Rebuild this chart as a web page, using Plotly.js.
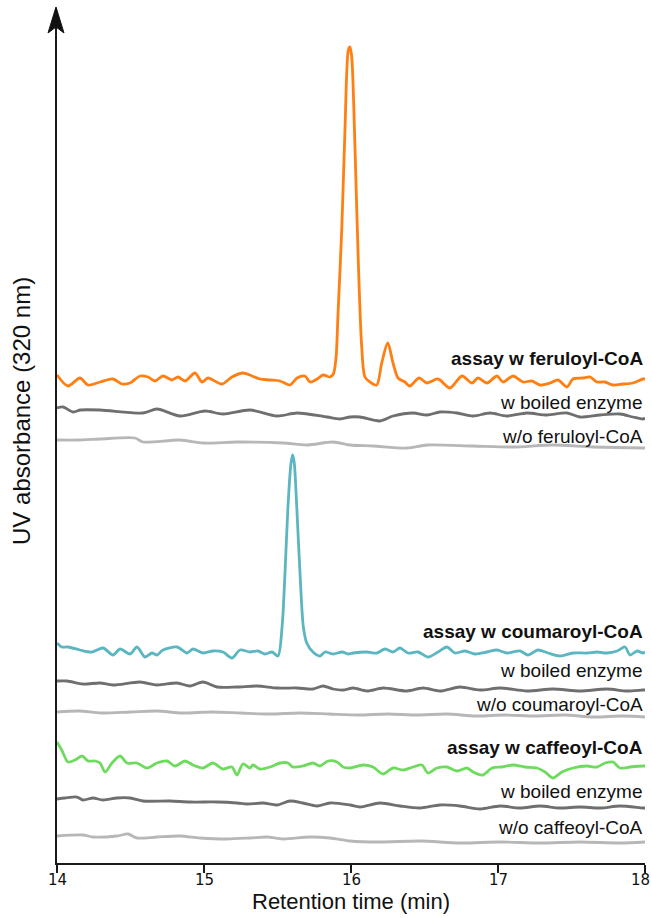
<!DOCTYPE html>
<html>
<head>
<meta charset="utf-8">
<script src="https://cdn.plot.ly/plotly-3.0.1.min.js"></script>
<style>
  html, body { margin: 0; padding: 0; background: #fff; }
  #chart { width: 652px; height: 918px; }
</style>
</head>
<body>
<div id="chart"></div>
<script>
// ---------- DATA (retention time in min, signal in arbitrary absorbance units relative to each trace baseline) ----------
const feruloylAssayTime = [14.000,14.075,14.156,14.211,14.293,14.381,14.442,14.497,14.565,14.619,14.667,14.721,14.782,14.823,14.871,14.939,14.986,15.027,15.122,15.190,15.265,15.327,15.381,15.449,15.517,15.585,15.633,15.687,15.721,15.769,15.810,15.857,15.880,15.898,15.912,15.937,15.959,15.982,15.993,16.005,16.027,16.050,16.073,16.095,16.129,16.175,16.209,16.250,16.286,16.320,16.367,16.400,16.463,16.517,16.592,16.673,16.755,16.823,16.864,16.925,16.993,17.034,17.102,17.170,17.231,17.286,17.354,17.408,17.469,17.510,17.578,17.626,17.673,17.728,17.782,17.850,17.918,17.986,18.000];
const feruloylAssaySignal = [5,-6,2,-5,-2,1,-4,-3,4,3,-1,4,0,3,-1,7,-2,2,-4,3,7,4,1,0,-1,-5,2,4,-2,1,5,3,6,22,67,150,250,330,333,323,233,117,33,3,-2,-5,17,37,17,2,-2,-6,2,-3,1,-8,4,-3,2,-3,4,-2,4,-2,-1,-5,-3,0,-7,1,2,3,-2,-2,-5,-4,-3,1,1];

const feruloylBoiledTime = [14.000,14.041,14.109,14.160,14.293,14.585,14.680,14.837,15.007,15.129,15.313,15.497,15.633,15.837,15.925,15.993,16.061,16.197,16.286,16.422,16.517,16.605,16.721,16.830,16.946,17.061,17.197,17.333,17.469,17.558,17.694,17.830,17.918,17.986,18.000];
const feruloylBoiledSignal = [2,3,-2,0,0,-3,1,-6,-1,-4,0,-6,-3,-7,-9,-7,-7,-11,-6,-3,-5,-2,-3,-6,-3,-6,-3,-5,-3,-7,-5,-4,-7,-9,-8];

const feruloylNoSubTime = [14.000,14.156,14.293,14.530,14.585,14.837,14.993,15.224,15.537,15.701,15.878,15.993,16.150,16.381,16.517,16.830,17.102,17.374,17.646,17.986,18.000];
const feruloylNoSubSignal = [0,0,1,2,-2,0,-3,-2,-3,-5,-2,-5,-6,-8,-5,-6,-7,-5,-7,-8,-8];

const coumaroylAssayTime = [14.000,14.032,14.075,14.156,14.238,14.313,14.381,14.429,14.497,14.544,14.599,14.646,14.680,14.721,14.816,14.884,14.925,14.993,15.061,15.129,15.190,15.245,15.313,15.367,15.415,15.463,15.503,15.531,15.551,15.571,15.592,15.603,15.614,15.631,15.653,15.676,15.699,15.741,15.789,15.823,15.878,15.939,15.980,16.014,16.109,16.177,16.231,16.286,16.333,16.388,16.456,16.524,16.592,16.653,16.707,16.776,16.844,16.925,16.993,17.061,17.150,17.204,17.272,17.340,17.422,17.510,17.605,17.673,17.741,17.810,17.864,17.898,17.946,17.986,18.000];
const coumaroylAssaySignal = [9,5,5,2,0,4,-3,3,-2,5,-5,-1,-3,2,5,-1,3,-1,1,0,-6,2,0,1,-2,0,-4,25,79,145,189,197,189,145,79,25,9,0,-4,0,-2,0,-2,-1,0,-1,3,0,4,-1,0,-5,0,5,-1,1,-2,0,2,-1,1,-3,2,-1,-4,-1,-1,0,-1,1,5,-3,1,-1,0];

const coumaroylBoiledTime = [14.000,14.068,14.177,14.293,14.381,14.565,14.680,14.816,14.905,14.993,15.088,15.224,15.361,15.497,15.633,15.741,15.810,15.878,15.946,16.014,16.109,16.218,16.381,16.490,16.605,16.741,16.878,17.014,17.197,17.374,17.558,17.741,17.878,17.986,18.000];
const coumaroylBoiledSignal = [3,3,0,1,-1,2,-1,1,-2,2,-3,-3,-2,-4,-4,-5,-2,-5,-6,-4,-7,-4,-7,-4,-7,-3,-6,-4,-7,-5,-7,-5,-7,-6,-6];

const coumaroylNoSubTime = [14.000,14.150,14.300,14.500,14.680,14.850,15.050,15.250,15.450,15.650,15.850,16.050,16.250,16.450,16.650,16.850,17.050,17.250,17.450,17.650,17.850,18.000];
const coumaroylNoSubSignal = [0,1,-1,0,1,-1,0,-1,-2,-1,-2,-3,-2,-3,-2,-4,-3,-4,-3,-5,-4,-5];

const caffeoylAssayTime = [14.000,14.032,14.075,14.122,14.170,14.211,14.259,14.293,14.327,14.374,14.429,14.476,14.544,14.612,14.680,14.748,14.803,14.871,14.925,14.993,15.061,15.129,15.190,15.224,15.265,15.313,15.333,15.381,15.449,15.517,15.571,15.605,15.673,15.741,15.789,15.844,15.905,15.946,15.993,16.082,16.150,16.218,16.286,16.354,16.422,16.483,16.524,16.585,16.653,16.721,16.789,16.830,16.898,16.959,17.027,17.102,17.184,17.265,17.320,17.374,17.435,17.510,17.605,17.673,17.728,17.782,17.830,17.898,17.986,18.000];
const caffeoylAssaySignal = [23,15,3,5,9,4,4,2,-7,2,9,2,2,-3,2,4,-1,4,0,-3,2,-4,-2,-10,1,-3,0,-4,-2,2,2,-2,-1,2,-1,4,3,-2,-3,0,-2,-9,-3,-5,-2,0,-8,-3,-2,-6,-3,-7,-10,-3,-2,0,-2,-3,-7,-13,-7,-3,-1,-2,2,3,-3,-2,-1,-1];

const caffeoylBoiledTime = [14.000,14.054,14.136,14.177,14.245,14.313,14.408,14.497,14.585,14.769,14.905,15.088,15.224,15.293,15.401,15.497,15.585,15.673,15.769,15.857,15.993,16.061,16.197,16.333,16.469,16.605,16.741,16.878,17.014,17.150,17.286,17.422,17.558,17.694,17.830,17.986,18.000];
const caffeoylBoiledSignal = [3,4,5,2,4,2,4,4,1,1,0,0,-1,-2,-1,-3,1,-1,-4,-1,-3,-5,-1,-4,-6,-3,-4,-7,-4,-6,-4,-6,-5,-6,-4,-6,-6];

const caffeoylNoSubTime = [14.000,14.177,14.245,14.408,14.483,14.544,14.680,14.837,14.973,15.156,15.313,15.429,15.537,15.721,15.857,15.993,16.197,16.469,16.741,17.014,17.286,17.558,17.830,18.000];
const caffeoylNoSubSignal = [2,3,1,2,4,0,1,2,0,-1,0,1,-1,1,0,-3,-4,-3,-5,-4,-5,-4,-5,-4];

const traceLabels = ["assay w feruloyl-CoA","w boiled enzyme","w/o feruloyl-CoA",
                     "assay w coumaroyl-CoA","w boiled enzyme","w/o coumaroyl-CoA",
                     "assay w caffeoyl-CoA","w boiled enzyme","w/o caffeoyl-CoA"];
const xTickValues = [14, 15, 16, 17, 18];
const xTickLabels = ["14", "15", "16", "17", "18"];

// ---------- presentation ----------
const stackOffsets = [483, 453, 423, 211, 179, 151, 98, 61, 25];
const labelHeights = [505, 461, 427, 232, 193, 159, 116, 72, 36];
const ORANGE = "#ff7f12", TEAL = "#5cb6c1", GREEN = "#6edb5e", DARK = "#6f6f6f", LIGHT = "#b7b7b7";
const colors = [ORANGE, DARK, LIGHT, TEAL, DARK, LIGHT, GREEN, DARK, LIGHT];

const series = [
  [feruloylAssayTime, feruloylAssaySignal],
  [feruloylBoiledTime, feruloylBoiledSignal],
  [feruloylNoSubTime, feruloylNoSubSignal],
  [coumaroylAssayTime, coumaroylAssaySignal],
  [coumaroylBoiledTime, coumaroylBoiledSignal],
  [coumaroylNoSubTime, coumaroylNoSubSignal],
  [caffeoylAssayTime, caffeoylAssaySignal],
  [caffeoylBoiledTime, caffeoylBoiledSignal],
  [caffeoylNoSubTime, caffeoylNoSubSignal]
];

const data = series.map((s, i) => ({
  type: "scatter",
  mode: "lines",
  x: s[0],
  y: s[1].map(v => v + stackOffsets[i]),
  line: { color: colors[i], width: 2.8, shape: "spline", smoothing: 0.8 },
  hoverinfo: "skip",
  showlegend: false,
  cliponaxis: false
}));

const FONT = "Liberation Sans, Arial, sans-serif";
const annotations = traceLabels.map((t, i) => ({
  xref: "paper", yref: "y",
  x: 1, y: labelHeights[i],
  xanchor: "right", yanchor: "middle",
  text: (i % 3 === 0) ? "<b>" + t + "</b>" : t,
  showarrow: false,
  font: { family: FONT, size: 19, color: "#111" }
}));
// x tick labels (drawn as annotations at the axis tick values so the last one stays inside the page)
xTickValues.forEach((v, i) => {
  const last = i === xTickValues.length - 1;
  annotations.push({
    xref: "x", yref: "paper", x: v, y: -0.0199,
    xanchor: last ? "right" : "center", yanchor: "middle",
    xshift: last ? 7 : 0,
    text: xTickLabels[i], showarrow: false,
    font: { family: "DejaVu Sans, Verdana, sans-serif", size: 15, color: "#111" }
  });
});
annotations.push({
  xref: "paper", yref: "paper", x: 0.5, y: -0.0456,
  xanchor: "center", yanchor: "middle",
  text: "Retention time (min)", showarrow: false,
  font: { family: FONT, size: 22, color: "#111" }
});
annotations.push({
  xref: "paper", yref: "paper", x: -0.0595, y: 0.5287,
  xanchor: "center", yanchor: "middle", textangle: -90,
  text: "UV absorbance (320 nm)", showarrow: false,
  font: { family: FONT, size: 24, color: "#111" }
});

const layout = {
  width: 652, height: 918,
  margin: { l: 57, r: 7, t: 8, b: 55 },
  paper_bgcolor: "#fff", plot_bgcolor: "#fff",
  showlegend: false,
  xaxis: {
    range: [14, 18], showgrid: false, zeroline: false,
    showline: true, linecolor: "#1a1a1a", linewidth: 2,
    ticks: "outside", ticklen: 8, tickwidth: 2, tickcolor: "#1a1a1a",
    tickvals: xTickValues, showticklabels: false,
    fixedrange: true
  },
  yaxis: {
    range: [0, 855], showgrid: false, zeroline: false,
    showline: true, linecolor: "#1a1a1a", linewidth: 2,
    showticklabels: false, ticks: "", fixedrange: true
  },
  shapes: [{
    type: "path", xref: "paper", yref: "paper",
    path: "M -0.0017,1.0012 L -0.0153,0.9708 L -0.0017,0.9778 L 0.0119,0.9708 Z",
    fillcolor: "#111", line: { color: "#111", width: 1 }
  }],
  annotations: annotations
};

Plotly.newPlot("chart", data, layout, { staticPlot: true, displayModeBar: false });
</script>
</body>
</html>
